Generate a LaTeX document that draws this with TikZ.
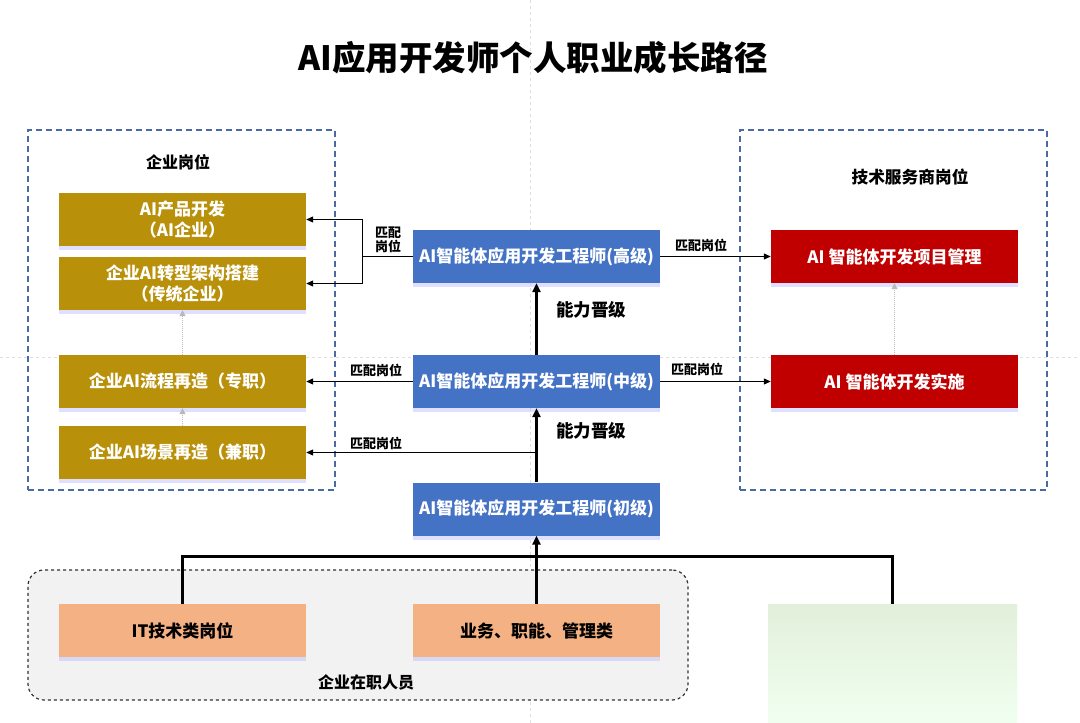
\documentclass[tikz,border=0pt]{standalone}
\usepackage{fontspec}
\setmainfont{Noto Sans CJK SC}
\usetikzlibrary{arrows.meta,shadows}
\definecolor{gold}{HTML}{B8900A}
\definecolor{bluebox}{HTML}{4472C4}
\definecolor{redbox}{HTML}{C00000}
\definecolor{orangebox}{HTML}{F4B183}
\definecolor{dashblue}{HTML}{4A6AA5}
\definecolor{greenbox}{HTML}{E2EFDA}
\tikzset{
  box/.style={minimum width=247pt,minimum height=53pt,inner sep=0pt,align=center,
    font=\bfseries\fontsize{17}{21}\selectfont,
    drop shadow={shadow xshift=0pt,shadow yshift=-4pt,fill=blue!35!white,opacity=0.35}},
  goldbox/.style={box,fill=gold,text=white},
  bluenode/.style={box,fill=bluebox,text=white},
  rednode/.style={box,fill=redbox,text=white},
  orangenode/.style={box,fill=orangebox,text=black},
  group/.style={draw=dashblue,line width=1.4pt,dash pattern=on 6pt off 4pt},
  arr/.style={-{Triangle[length=7pt,width=6pt]},line width=1pt,black},
  thickarr/.style={-{Triangle[length=9pt,width=8pt]},line width=3pt,black},
  thickline/.style={line width=3pt,black},
  gdot/.style={-{Triangle[length=6pt,width=6pt]},densely dotted,line width=1pt,gray!55},
  small/.style={font=\bfseries\fontsize{13}{14}\selectfont},
  label/.style={font=\bfseries\fontsize{16}{20}\selectfont},
  guide/.style={gray!25,dashed,line width=0.6pt}
}
\begin{document}
\begin{tikzpicture}[x=1pt,y=-1pt]
\useasboundingbox (0,0) rectangle (1080,723);
\fill[white] (0,0) rectangle (1080,723);
% faint guides
\draw[guide] (530,0) -- (530,723);
\draw[guide] (0,357) -- (1080,357);
% title
\node[font=\bfseries\fontsize{33.5}{38}\selectfont] (title) at (533,58) {AI应用开发师个人职业成长路径};
% groups
\node[group,minimum width=307pt,minimum height=360pt] (lgrp) at (181.5,310) {};
\node[group,minimum width=307pt,minimum height=360pt] (rgrp) at (893.5,310) {};
\node[label] (lt) at (178,162) {企业岗位};
\node[label,font=\bfseries\fontsize{16.7}{20}\selectfont] (rt) at (910,177) {技术服务商岗位};
% bottom container
\node[draw=black!80,dashed,line width=1.2pt,rounded corners=16pt,fill=gray!10,
  minimum width=660pt,minimum height=130pt] (emp) at (358,635) {};
\node[label] (empt) at (366,682) {企业在职人员};
% gold boxes
\node[goldbox] (g1) at (182.5,219.5) {AI产品开发\\（AI企业）};
\node[goldbox] (g2) at (182.5,283.5) {企业AI转型架构搭建\\（传统企业）};
\node[goldbox] (g3) at (182.5,381.5) {企业AI流程再造（专职）};
\node[goldbox] (g4) at (182.5,452.5) {企业AI场景再造（兼职）};
% blue boxes
\node[bluenode] (gj) at (536.5,256.5) {AI智能体应用开发工程师(高级)};
\node[bluenode] (zj) at (536.5,381.5) {AI智能体应用开发工程师(中级)};
\node[bluenode] (cj) at (536.5,509) {AI智能体应用开发工程师(初级)};
% red boxes
\node[rednode] (r1) at (894.5,256.5) {AI 智能体开发项目管理};
\node[rednode] (r2) at (894.5,381.5) {AI 智能体开发实施};
% bottom boxes
\node[orangenode] (it) at (182.5,630.5) {IT技术类岗位};
\node[orangenode] (yw) at (536.5,630.5) {业务、职能、管理类};
\node[minimum width=249pt,minimum height=119pt,inner sep=0pt,top color=greenbox,bottom color=green!6!white] (gr) at (892.5,663.5) {};
% gray dotted progressions
\draw[gdot] (g3.north) -- (g2.south);
\draw[gdot] (g4.north) -- (g3.south);
\draw[gdot] (r2.north) -- (r1.south);
% thick progressions
\draw[thickarr] (zj.north) -- (gj.south);
\draw[thickarr] (cj.north) -- (zj.south);
\node[label,font=\bfseries\fontsize{17.5}{20}\selectfont] (n1) at (591,310) {能力晋级};
\node[label,font=\bfseries\fontsize{17.5}{20}\selectfont] (n2) at (591,431) {能力晋级};
% matches left
\coordinate (j) at (362,256.5);
\draw[line width=1pt] (gj.west) -- (j);
\draw[arr] (j) |- (g1.east);
\draw[arr] (j) |- (g2.east);
\node[small,align=center] (m1) at (388,240) {匹配\\岗位};
\draw[arr] (zj.west) -- (g3.east);
\node[small] (m2) at (376,370) {匹配岗位};
\coordinate (k) at (536.5,452.5);
\draw[arr] (k) -- (g4.east);
\node[small] (m3) at (376,443) {匹配岗位};
% matches right
\draw[arr] (gj.east) -- (r1.west);
\node[small] (m4) at (701,245) {匹配岗位};
\draw[arr] (zj.east) -- (r2.west);
\node[small] (m5) at (697,369) {匹配岗位};
% bottom tree
\coordinate (h) at (536.5,556);
\draw[thickline] (it.north) -- (it.north |- h) -- (gr.north |- h) -- (gr.north);
\draw[thickarr] (yw.north) -- (cj.south);
\end{tikzpicture}
\end{document}
